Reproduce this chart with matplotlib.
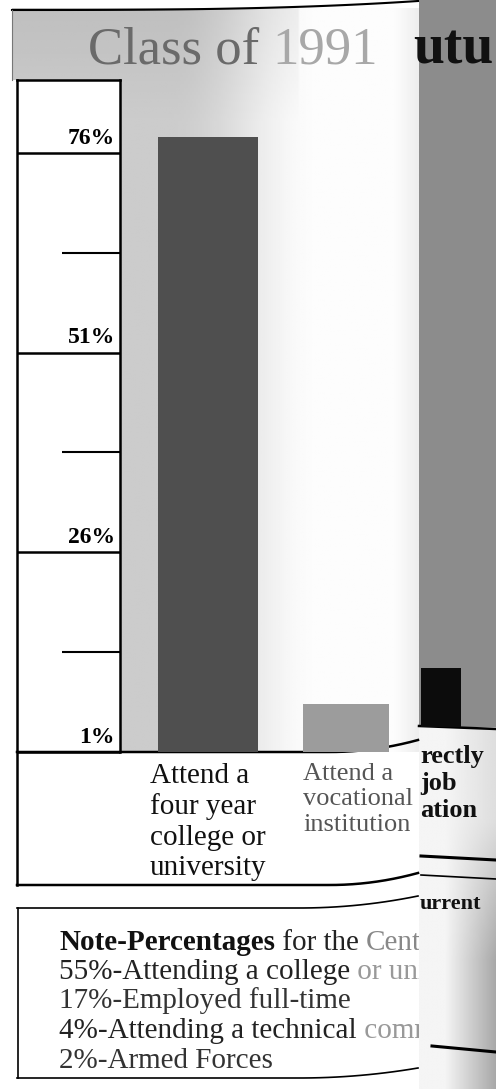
import numpy as np
import matplotlib
matplotlib.use("Agg")
import matplotlib.pyplot as plt
from matplotlib.patches import Rectangle
from matplotlib.transforms import Bbox, TransformedBbox

# ---------------- data ----------------
categories = ["Attend a\nfour year\ncollege or\nuniversity",
              "Attend a\nvocational\ninstitution",
              "rectly\njob\nation"]
values = [78, 7, 11.5]
tick_values = [1, 26, 51, 76]
tick_labels = ["1%", "26%", "51%", "76%"]
minor_values = [13.5, 38.5, 63.5]
title_parts = ["Class of ", "1991", "utu"]
note_lines = [
    [("Note-Percentages", "bold", "#111111"), (" for the ", "normal", "#222222"), ("Cent", "normal", "#888888")],
    [("55%-Attending a college", "normal", "#222222"), (" or uni", "normal", "#999999")],
    [("17%-Employed full-time", "normal", "#333333")],
    [("4%-Attending a technical", "normal", "#222222"), (" comm", "normal", "#999999")],
    [("2%-Armed Forces", "normal", "#333333")],
]

# ---------------- layout ----------------
W, H = 496, 1089
DPI = 100
SERIF = ["Liberation Serif", "DejaVu Serif"]
plt.rcParams["font.family"] = SERIF

fig = plt.figure(figsize=(W / DPI, H / DPI), dpi=DPI)
fig.patch.set_facecolor("white")

# background / decoration axes in pixel coordinates
bg = fig.add_axes([0, 0, 1, 1])
bg.set_xlim(0, W)
bg.set_ylim(H, 0)
bg.axis("off")

PX = 419  # edge of the neighbouring page

# light halftone panel with lighting gradient
xs = np.linspace(12, PX, 200)
ys = np.linspace(8, 752, 200)
X, Y = np.meshgrid(xs, ys)
t = np.clip((X - 170) / 150, 0, 1)
g = 0.80 + 0.19 * (t * t * (3 - 2 * t))
g -= 0.06 * np.clip((X - 395) / 25, 0, 1)
g -= 0.05 * np.clip((120 - Y) / 110, 0, 1) * (X < 300)
bg.imshow(g, extent=(12, PX, 752, 8), cmap="gray", vmin=0, vmax=1,
          aspect="auto", zorder=0, interpolation="bilinear")

# dark right-hand page panel
bg.add_patch(Rectangle((PX, 0), W - PX, 727, facecolor="#8c8c8c", edgecolor="none", zorder=0))
xs2 = np.linspace(PX, W, 100)
ys2 = np.linspace(727, H, 100)
X2, Y2 = np.meshgrid(xs2, ys2)
g2 = 0.96 - 0.30 * np.clip((X2 - 445) / 51, 0, 1) * np.clip((Y2 - 760) / 200, 0.3, 1)
bg.imshow(g2, extent=(PX, W, H, 727), cmap="gray", vmin=0, vmax=1,
          aspect="auto", zorder=0, interpolation="bilinear")

# white y-axis box
bg.add_patch(Rectangle((0, 80), 120, 672, facecolor="white", edgecolor="none", zorder=1))
# top curved border
cx = np.linspace(12, 418, 50)
bg.plot(cx, 10 - 9 * ((cx - 12) / 406) ** 3, color="black", lw=1.5, zorder=2)
bg.plot([12, 12], [10, 80], color="#777777", lw=0.8, zorder=2)
# box outlines
bg.plot([17, 17], [80, 885], color="black", lw=1.8, zorder=3)
bg.plot([17, 120], [80, 80], color="black", lw=1.8, zorder=3)
bg.plot([120, 120], [80, 752], color="black", lw=1.8, zorder=3)
bx = np.linspace(17, 418, 50)
bg.plot(bx, 752 - 12 * np.clip((bx - 330) / 88, 0, 1) ** 2, color="black", lw=1.8, zorder=3)
bg.plot(bx, 885 - 12 * np.clip((bx - 330) / 88, 0, 1) ** 2, color="black", lw=1.8, zorder=3)
bg.plot([PX, W], [726, 729], color="black", lw=1.8, zorder=3)
# note box
bg.plot([18, 18], [908, 1078], color="black", lw=1.2, zorder=3)
bg.plot(bx, 908 - 12 * np.clip((bx - 300) / 118, 0, 1) ** 2, color="black", lw=1.2, zorder=3)
bg.plot(bx, 1078 - 10 * np.clip((bx - 300) / 118, 0, 1) ** 2, color="black", lw=1.2, zorder=3)
# fragments of the neighbouring page
bg.plot([PX + 2, W], [856, 860], color="black", lw=2.2, zorder=3)
bg.plot([PX + 2, W], [875, 879], color="black", lw=1.2, zorder=3)
bg.plot([432, W], [1046, 1052], color="black", lw=2.2, zorder=3)
bg.text(PX + 1, 909, "urrent", fontsize=16, fontweight="bold", color="#111111",
        va="baseline", ha="left", zorder=4)

fig.canvas.draw()
renderer = fig.canvas.get_renderer()
left_page_box = TransformedBbox(Bbox([[0, 0], [PX, H]]), bg.transData)


def draw_segments(ax, x, y, segments, size, clip=None):
    for txt, weight, color in segments:
        tt = ax.text(x, y, txt, fontsize=size, fontweight=weight, color=color,
                     va="baseline", ha="left", zorder=5)
        if clip is not None:
            tt.set_clip_on(True)
            tt.set_clip_box(clip)
        bb = tt.get_window_extent(renderer=renderer)
        x += bb.width  # pixel axes: 1 data unit == 1 pixel
    return x


# title
draw_segments(bg, 88, 63, [(title_parts[0], "normal", "#6a6a6a"),
                           (title_parts[1], "normal", "#a8a8a8")], 38)
bg.text(PX - 6, 63, title_parts[2], fontsize=40, fontweight="bold", color="#111111",
        va="baseline", ha="left", zorder=5)

# note text (the right end disappears behind the neighbouring page)
note_baselines = [950, 979, 1008, 1038, 1068]
for segs, yb in zip(note_lines, note_baselines):
    draw_segments(bg, 59, yb, segs, 21, clip=left_page_box)

# ---------------- bar chart axes ----------------
ax_left, ax_right, ax_top, ax_bottom = 120, 496, 80, 752
ax = fig.add_axes([ax_left / W, 1 - ax_bottom / H,
                   (ax_right - ax_left) / W, (ax_bottom - ax_top) / H])
ax.patch.set_alpha(0)
for s in ax.spines.values():
    s.set_visible(False)
ax.set_xticks([])
ax.set_yticks([])

unit = 138.0
xpos = [0.0, 1.0, 1.69]
widths = [0.72, 0.63, 0.29]
bar_colors = ["#4f4f4f", "#9c9c9c", "#0c0c0c"]
ax.set_xlim((ax_left - 208) / unit, (ax_right - 208) / unit)
ax.set_ylim(1, 1 + (ax_bottom - ax_top) / 7.99)
bars = ax.bar(xpos, values, width=widths, color=bar_colors, zorder=2)
# the third bar belongs to the neighbouring (curved) page: clip it at that page's baseline
bars[2].set_clip_path(Rectangle((PX, 0), W - PX, 727, transform=bg.transData))

ytr = ax.get_yaxis_transform()
axw = ax_right - ax_left
box_left = (17 - ax_left) / axw
minor_left = (62 - ax_left) / axw
ax.hlines(tick_values, box_left, 0, transform=ytr, colors="black", lw=1.8, clip_on=False)
ax.hlines(minor_values, minor_left, 0, transform=ytr, colors="black", lw=1.5, clip_on=False)
for v, lab in zip(tick_values, tick_labels):
    ax.annotate(lab, xy=(-5 / axw, v), xycoords=ytr, xytext=(0, 3),
                textcoords="offset points", ha="right", va="bottom",
                fontsize=17, fontweight="bold", color="black", annotation_clip=False)

# category labels
xtr = ax.get_xaxis_transform()
label_dx = [0.0, 0.09, -0.15]
label_ha = ["center", "center", "left"]
label_y = [-0.016, -0.016, 0.011]
label_w = ["normal", "normal", "bold"]
label_c = ["#111111", "#555555", "#111111"]
label_fs = [21, 19, 19]
label_ls = [1.22, 1.2, 1.22]
for p, lab, dx, ha, yy, w, c, fs, ls in zip(xpos, categories, label_dx, label_ha,
                                            label_y, label_w, label_c, label_fs, label_ls):
    ax.text(p + dx, yy, lab, transform=xtr, ha=ha, va="top", multialignment="left",
            fontsize=fs, fontweight=w, color=c, linespacing=ls, clip_on=False, zorder=5)

fig.savefig("out.png", dpi=DPI, facecolor="white")
